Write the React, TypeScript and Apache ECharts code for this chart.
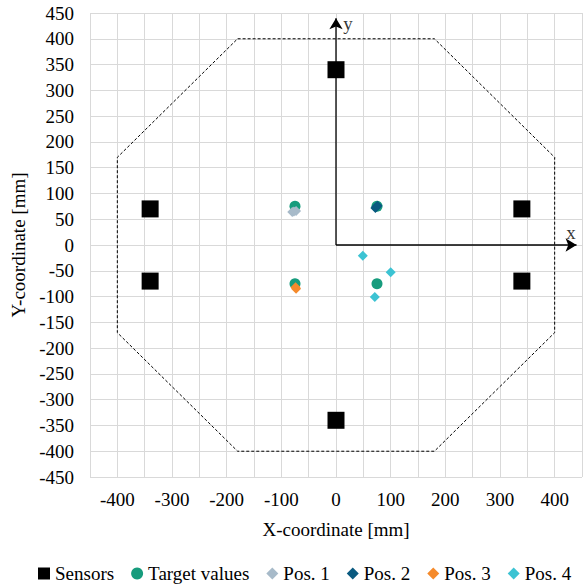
import React, { useEffect, useRef } from "react";
import * as echarts from "echarts";

const sensorsX = [0, 0, -340, -340, 340, 340];
const sensorsY = [340, -340, 70, -70, 70, -70];
const targetX = [-75, 75, -75, 75];
const targetY = [75, 75, -75, -75];
const pos1X = [-80, -77, -73];
const pos1Y = [64, 65, 66];
const pos2X = [72, 74, 76];
const pos2Y = [72, 74, 76];
const pos3X = [-74, -73];
const pos3Y = [-82, -85];
const pos4X = [49, 100, 71];
const pos4Y = [-21, -53, -101];
const boundaryX = [-180, 180, 400, 400, 180, -180, -400, -400, -180];
const boundaryY = [400, 400, 170, -170, -400, -400, -170, 170, 400];
const arrowEnd = 440;
const axisMin = -450;
const axisMax = 450;

const FONT = "Liberation Serif";
const serif = { fontFamily: FONT, fontSize: 19, color: "#000" };

const pairs = (xs: number[], ys: number[]) => xs.map((x, i) => [x, ys[i]]);

export default function App() {
  const ref = useRef<HTMLDivElement>(null);
  useEffect(() => {
    if (!ref.current) return;
    const chart = echarts.init(ref.current, undefined, { renderer: "svg" });
    const gridLine = { show: true, lineStyle: { color: "#d9d9d9", width: 1 } };
    const arrowSeries = (end: number[], rot: number) => ({
      type: "line",
      data: [
        { value: [0, 0], symbol: "none" },
        { value: end, symbol: "arrow", symbolSize: [10, 11], symbolRotate: rot },
      ],
      showSymbol: true,
      lineStyle: { color: "#000", width: 1.3 },
      itemStyle: { color: "#000", opacity: 1 },
      silent: true,
      z: 2,
    });
    chart.setOption({
      animation: false,
      textStyle: { fontFamily: FONT },
      grid: { left: 90, right: 0.5, top: 13, bottom: 107 },
      legend: {
        left: 38,
        top: 564,
        padding: 0,
        itemGap: 17,
        itemWidth: 12,
        itemHeight: 12,
        formatter: "{s|{name}}",
        textStyle: { ...serif, rich: { s: { ...serif } } },
        data: [
          { name: "Sensors", icon: "rect" },
          { name: "Target values", icon: "circle" },
          { name: "Pos. 1", icon: "diamond" },
          { name: "Pos. 2", icon: "diamond" },
          { name: "Pos. 3", icon: "diamond" },
          { name: "Pos. 4", icon: "diamond" },
        ],
      },
      xAxis: {
        type: "value",
        min: axisMin,
        max: axisMax,
        interval: 50,
        axisLine: { show: false },
        axisTick: { show: false },
        splitLine: gridLine,
        axisLabel: {
          margin: 13,
          ...serif,
          rich: { s: { ...serif } },
          formatter: (v: number) => (v % 100 === 0 ? "{s|" + v + "}" : ""),
        },
        name: "{s|X-coordinate [mm]}",
        nameLocation: "middle",
        nameGap: 43,
        nameTextStyle: { ...serif, rich: { s: { ...serif } } },
      },
      yAxis: {
        type: "value",
        min: axisMin,
        max: axisMax,
        interval: 50,
        axisLine: { show: false },
        axisTick: { show: false },
        splitLine: gridLine,
        axisLabel: {
          margin: 16,
          ...serif,
          rich: { s: { ...serif } },
          formatter: (v: number) => "{s|" + v + "}",
        },
        name: "{s|Y-coordinate [mm]}",
        nameLocation: "middle",
        nameGap: 59,
        nameTextStyle: { ...serif, rich: { s: { ...serif } } },
      },
      series: [
        {
          name: "boundary",
          type: "line",
          data: pairs(boundaryX, boundaryY),
          showSymbol: false,
          symbol: "none",
          lineStyle: { color: "#000", width: 1, type: [3, 2] },
          silent: true,
          z: 1,
        },
        arrowSeries([0, arrowEnd], 0),
        arrowSeries([arrowEnd, 0], -90),
        {
          name: "axisNames",
          type: "scatter",
          symbolSize: 0,
          data: [
            { value: [430, 25], label: { formatter: "x" } },
            { value: [22, 430], label: { formatter: "y" } },
          ],
          label: { show: true, position: "inside", ...serif },
          silent: true,
          z: 2,
        },
        {
          name: "Sensors",
          type: "scatter",
          symbol: "rect",
          symbolSize: 17,
          itemStyle: { color: "#000", opacity: 1 },
          data: pairs(sensorsX, sensorsY),
          z: 3,
        },
        {
          name: "Target values",
          type: "scatter",
          symbol: "circle",
          symbolSize: 11,
          itemStyle: { color: "#179c7d", opacity: 1 },
          data: pairs(targetX, targetY),
          z: 3,
        },
        {
          name: "Pos. 1",
          type: "scatter",
          symbol: "diamond",
          symbolSize: 10,
          itemStyle: { color: "#a7bac9", opacity: 1 },
          data: pairs(pos1X, pos1Y),
          z: 4,
        },
        {
          name: "Pos. 2",
          type: "scatter",
          symbol: "diamond",
          symbolSize: 10,
          itemStyle: { color: "#0a5a80", opacity: 1 },
          data: pairs(pos2X, pos2Y),
          z: 4,
        },
        {
          name: "Pos. 3",
          type: "scatter",
          symbol: "diamond",
          symbolSize: 10,
          itemStyle: { color: "#f58a2b", opacity: 1 },
          data: pairs(pos3X, pos3Y),
          z: 4,
        },
        {
          name: "Pos. 4",
          type: "scatter",
          symbol: "diamond",
          symbolSize: 10,
          itemStyle: { color: "#3cc3d3", opacity: 1 },
          data: pairs(pos4X, pos4Y),
          z: 4,
        },
      ],
    });
    return () => chart.dispose();
  }, []);
  return (
    <div
      ref={ref}
      style={{ position: "fixed", left: 0, top: 0, width: 585, height: 584, background: "#fff" }}
    />
  );
}
